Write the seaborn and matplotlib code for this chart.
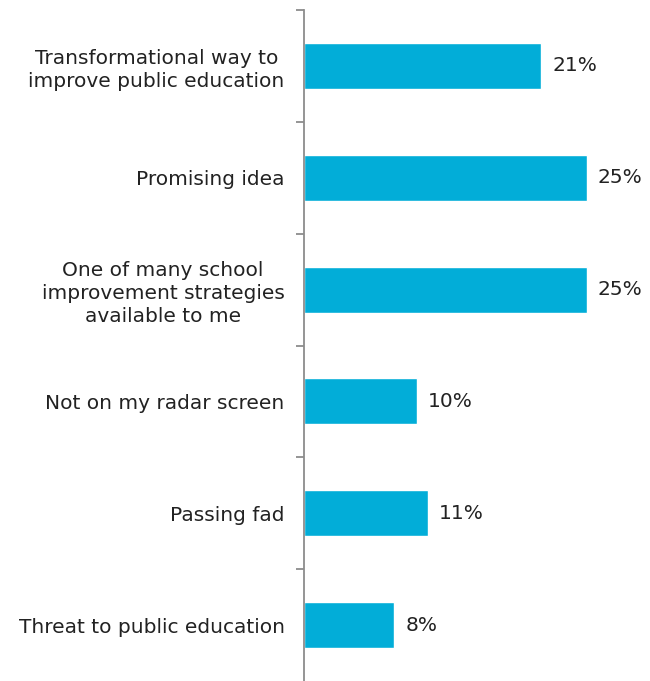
import matplotlib
matplotlib.use("Agg")
import matplotlib.pyplot as plt
import seaborn as sns
import pandas as pd
from matplotlib.ticker import FixedLocator

categories = [
    "Transformational way to\nimprove public education",
    "Promising idea",
    "One of many school\nimprovement strategies\navailable to me",
    "Not on my radar screen",
    "Passing fad",
    "Threat to public education",
]
values = [21, 25, 25, 10, 11, 8]

df = pd.DataFrame({"category": categories, "value": values})

sns.set_theme(style="white")
plt.rcParams["font.family"] = ["DejaVu Sans"]

fig = plt.figure(figsize=(6.5, 6.81), dpi=100)
ax = fig.add_axes([304 / 650, 0.0, 1 - 304 / 650, (681 - 10) / 681])

sns.barplot(data=df, y="category", x="value", orient="h", color="#02ADD8",
            width=0.41, saturation=1, ax=ax)

ax.set_xlim(0, 30.6)
ax.set_ylim(len(categories) - 0.5, -0.5)
ax.set_xlabel("")
ax.set_ylabel("")
ax.set_xticks([])

for s in ["top", "right", "bottom"]:
    ax.spines[s].set_visible(False)
ax.spines["left"].set_color("#8C8C8C")
ax.spines["left"].set_linewidth(1.3)

fs = 14.5
ax.set_yticks(range(len(categories)))
ax.set_yticklabels(categories, fontsize=fs, color="#222222", linespacing=1.25)
ax.tick_params(axis="y", which="major", length=0, pad=14)
ax.yaxis.set_minor_locator(FixedLocator([i + 0.5 for i in range(len(categories) - 1)] + [-0.5]))
ax.tick_params(axis="y", which="minor", left=True, length=6, width=1.3, color="#8C8C8C")
for lbl in ax.get_yticklabels():
    lbl.set_horizontalalignment("right")
    lbl.set_multialignment("center")

for i, v in enumerate(values):
    ax.text(v + 0.95, i, f"{v}%", va="center", ha="left", fontsize=fs, color="#222222")

fig.savefig("out.png", dpi=100)
